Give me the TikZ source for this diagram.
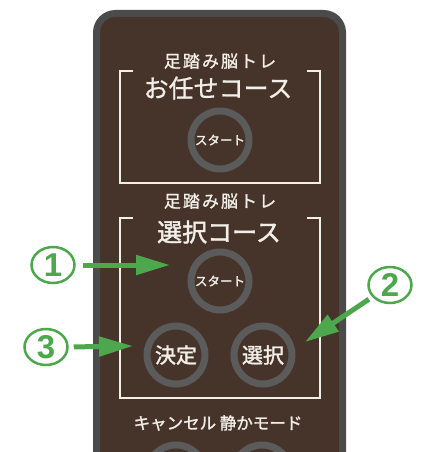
\documentclass[tikz,border=0pt]{standalone}
\usepackage{fontspec}
\usetikzlibrary{arrows.meta,shapes.geometric}
\newfontfamily\jp[FakeBold=0.8]{Noto Sans CJK JP}
\newfontfamily\jpb[FakeBold=1.6]{Noto Sans CJK JP}
\newfontfamily\jpsp[LetterSpace=12,FakeBold=1.2]{Noto Sans CJK JP}
\newfontfamily\numfont{Liberation Sans}
\definecolor{bodybrown}{HTML}{46342A}
\definecolor{rimgray}{HTML}{4B4B4B}
\definecolor{ringgray}{HTML}{5B5B5B}
\definecolor{txtwhite}{HTML}{F2EEE8}
\definecolor{mygreen}{HTML}{4DA84D}
\tikzset{
  bracket/.style={draw=txtwhite, line width=1.6pt},
  btn/.style={circle, minimum size=58pt, inner sep=0pt, line width=7pt, draw=ringgray, fill=bodybrown, text=txtwhite},
  lbl/.style={inner sep=0pt, text=txtwhite},
  numc/.style={ellipse, minimum width=43pt, minimum height=36pt, inner sep=0pt, draw=mygreen, line width=2.5pt, text=mygreen, font=\numfont\bfseries\fontsize{33}{33}\selectfont},
  arr/.style={draw=mygreen, line width=5pt, -{Triangle[length=34pt,width=19pt]}}
}
\begin{document}
\begin{tikzpicture}[x=1pt,y=-1pt]
\useasboundingbox (0,0) rectangle (424,452);
\clip (0,0) rectangle (424,452);
\fill[white] (0,0) rectangle (424,452);
% remote body
\draw[line width=7pt, draw=rimgray, fill=bodybrown, rounded corners=19pt] (96.5,13.5) rectangle (342.5,530);
% brackets
\draw[bracket] (133,71) -- (120,71) -- (120,183) -- (320,183) -- (320,71) -- (307,71);
\draw[bracket] (133,218) -- (120,218) -- (120,398) -- (320,398) -- (320,218) -- (307,218);
% texts
\node[lbl, font=\jpsp\fontsize{17}{17}\selectfont] (brain1) at (220,61) {足踏み脳トレ};
\node[lbl, font=\jp\fontsize{25}{25}\selectfont] (omakase) at (218,88) {お任せコース};
\node[lbl, font=\jpsp\fontsize{17}{17}\selectfont] (brain2) at (220,201) {足踏み脳トレ};
\node[lbl, font=\jpb\fontsize{25}{25}\selectfont] (select) at (219,232) {選択コース};
\node[lbl, font=\jpb\fontsize{16.5}{16.5}\selectfont] (cancel) at (218,423) {キャンセル 静かモード};
% buttons
\node[btn, font=\jpb\fontsize{12.5}{12.5}\selectfont] (start1) at (220,140) {スタート};
\node[btn, font=\jpb\fontsize{12.5}{12.5}\selectfont] (start2) at (220,281) {スタート};
\node[btn, font=\jpb\fontsize{21}{21}\selectfont] (kettei) at (176,355) {決定};
\node[btn, font=\jpb\fontsize{21}{21}\selectfont] (sentaku) at (263,355) {選択};
\node[btn] (cancelbtn) at (176,474) {};
\node[btn] (quietbtn) at (262,474) {};
% numbered markers
\node[numc] (n1) at (53,265) {1};
\node[numc] (n2) at (390,285) {2};
\node[numc] (n3) at (46,347) {3};
\coordinate (t1) at (170,265);
\coordinate (t2) at (305,342);
\coordinate (t3) at (133,346);
\draw[arr, shorten <=7pt] (n1.east) -- (t1);
\draw[arr, shorten <=4pt] (n2.214) -- (t2);
\draw[arr, shorten <=5pt] (n3.east) -- (t3);
\end{tikzpicture}
\end{document}
